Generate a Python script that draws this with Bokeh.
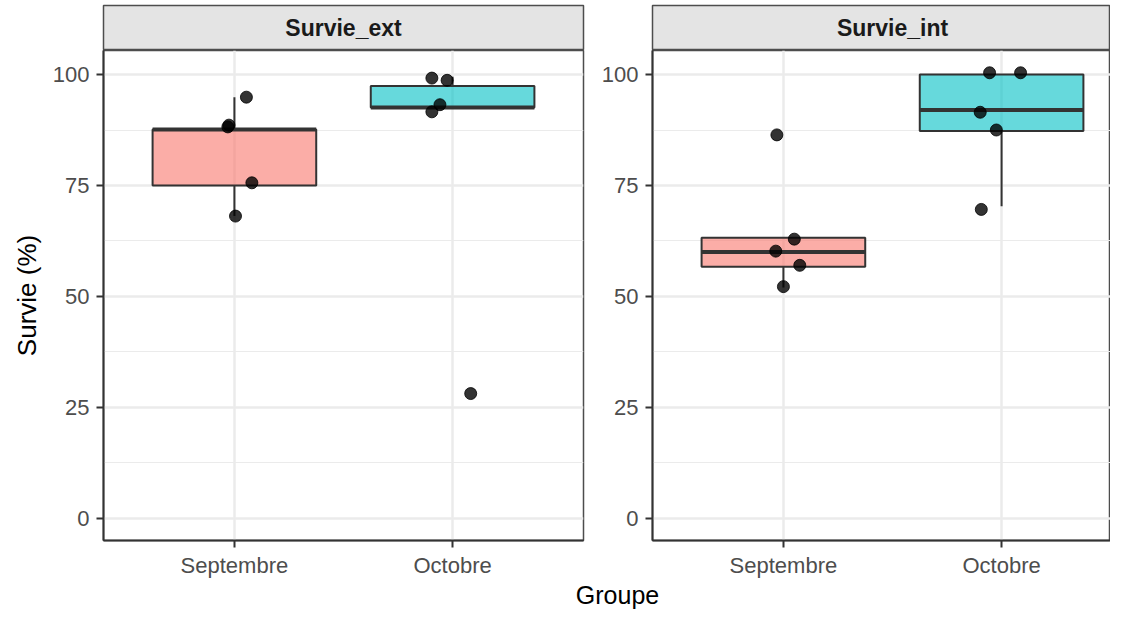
from bokeh.plotting import figure
from bokeh.models import Range1d, FixedTicker, Label
from bokeh.layouts import row, column
from bokeh.embed import file_html
from bokeh.resources import INLINE

# ---------------- data ----------------
groups = ["Septembre", "Octobre"]
panels = ["Survie_ext", "Survie_int"]
box_colors = ["#F8766D", "#00BFC4"]

# box statistics per panel, per group (Septembre, Octobre)
ext_lower = [68.1, 92.6]
ext_q1 = [75.0, 92.6]
ext_median = [87.6, 92.6]
ext_q3 = [87.6, 97.4]
ext_upper = [94.9, 99.5]

int_lower = [52.0, 70.3]
int_q1 = [56.7, 87.3]
int_median = [60.0, 92.0]
int_q3 = [63.2, 100.0]
int_upper = [63.2, 100.0]

# individual (jittered) observations
ext_sept_vals = [94.9, 88.2, 88.6, 75.6, 68.1]
ext_sept_jit = [0.055, -0.03, -0.025, 0.08, 0.005]
ext_oct_vals = [99.2, 98.7, 93.2, 91.6, 28.1]
ext_oct_jit = [-0.095, -0.025, -0.058, -0.095, 0.083]

int_sept_vals = [62.9, 60.2, 57.0, 52.2, 86.4]
int_sept_jit = [0.05, -0.035, 0.075, 0.0, -0.03]
int_oct_vals = [100.4, 100.4, 91.5, 87.5, 69.6]
int_oct_jit = [-0.055, 0.087, -0.098, -0.024, -0.093]

y_ticks = [0, 25, 50, 75, 100]
y_minor = [12.5, 37.5, 62.5, 87.5]

# ---------------- style / layout ----------------
FONT = "Liberation Sans"
BOX_W = 0.75
Y_RANGE = (-5.02, 105.42)
PX_PER_UNIT = 480 / 2.2  # horizontal px per category unit
TOTAL_W, TOTAL_H = 1110, 609
LEFT_W = 588
RIGHT_W = TOTAL_W - LEFT_W
STRIP_TOP, STRIP_H = 5, 45
FRAME_H = 493
BOTTOM_B = 37
PANEL_H = FRAME_H + BOTTOM_B
G_H = TOTAL_H - (STRIP_TOP + STRIP_H) - PANEL_H


def make_panel(width, ml, mr, xend, lower, q1, med, q3, upper, pts, title, ylabel):
    p = figure(width=width, height=PANEL_H, x_range=Range1d(0.4, xend),
               y_range=Range1d(*Y_RANGE), toolbar_location=None,
               output_backend="svg", min_border_left=ml, min_border_right=mr,
               min_border_top=0, min_border_bottom=BOTTOM_B,
               background_fill_color="white", border_fill_color="white",
               outline_line_color="#4d4d4d", outline_line_width=1.5)
    xs = [1, 2]
    # whiskers
    p.segment(x0=xs, x1=xs, y0=q3, y1=upper, line_color="#333333", line_width=2)
    p.segment(x0=xs, x1=xs, y0=lower, y1=q1, line_color="#333333", line_width=2)
    # boxes
    p.vbar(x=xs, width=BOX_W, top=q3, bottom=q1, fill_color=box_colors,
           fill_alpha=0.6, line_color="#333333", line_width=2)
    # medians
    p.segment(x0=[x - BOX_W / 2 for x in xs], x1=[x + BOX_W / 2 for x in xs],
              y0=med, y1=med, line_color="#333333", line_width=4)
    # points
    for gi, (vals, jit) in enumerate(pts):
        p.scatter(x=[xs[gi] + j for j in jit], y=vals, size=12,
                  fill_color="black", fill_alpha=0.8, line_color="black",
                  line_alpha=0.8)

    p.xaxis.ticker = FixedTicker(ticks=xs)
    p.xaxis.major_label_overrides = {1: groups[0], 2: groups[1]}
    p.yaxis.ticker = FixedTicker(ticks=y_ticks, minor_ticks=y_minor)
    for ax in p.axis:
        ax.axis_line_color = "#333333"
        ax.axis_line_width = 2
        ax.major_tick_line_color = "#333333"
        ax.major_tick_line_width = 2
        ax.major_tick_in = 0
        ax.major_tick_out = 7
        ax.minor_tick_line_color = None
        ax.major_label_text_font = FONT
        ax.major_label_text_font_size = "22px"
        ax.major_label_text_color = "#4d4d4d"
    p.xaxis.major_label_standoff = 5
    p.yaxis.major_label_standoff = 7
    if ylabel:
        p.yaxis.axis_label = ylabel
        p.yaxis.axis_label_text_font = FONT
        p.yaxis.axis_label_text_font_size = "26px"
        p.yaxis.axis_label_text_font_style = "normal"
        p.yaxis.axis_label_text_color = "black"
        p.yaxis.axis_label_standoff = 8
    p.xgrid.grid_line_color = "#ebebeb"
    p.xgrid.grid_line_width = 2.5
    p.ygrid.grid_line_color = "#ebebeb"
    p.ygrid.grid_line_width = 2.5
    p.ygrid.minor_grid_line_color = "#ebebeb"
    p.ygrid.minor_grid_line_width = 1.2

    s = figure(width=width, height=STRIP_TOP + STRIP_H, x_range=p.x_range,
               y_range=Range1d(0, 1), toolbar_location=None, output_backend="svg",
               min_border_left=ml, min_border_right=mr, min_border_top=STRIP_TOP,
               min_border_bottom=0, x_axis_location=None, y_axis_location=None,
               background_fill_color="#e4e4e4", border_fill_color="white",
               outline_line_color="#4d4d4d", outline_line_width=1.5)
    s.grid.visible = False
    s.add_layout(Label(x=(0.4 + 2.6) / 2, y=0.5, text=title, text_align="center",
                       text_baseline="middle", text_font=FONT,
                       text_font_size="23px", text_font_style="bold",
                       text_color="#1a1a1a"))
    return column(s, p)


left = make_panel(LEFT_W, 103, 5, 2.6, ext_lower, ext_q1, ext_median, ext_q3, ext_upper,
                  [(ext_sept_vals, ext_sept_jit), (ext_oct_vals, ext_oct_jit)],
                  panels[0], "Survie (%)")
right_ml = 64
right = make_panel(RIGHT_W, right_ml, 0, 0.4 + (RIGHT_W - right_ml) / PX_PER_UNIT,
                   int_lower, int_q1, int_median, int_q3, int_upper,
                   [(int_sept_vals, int_sept_jit), (int_oct_vals, int_oct_jit)],
                   panels[1], None)

g = figure(width=TOTAL_W, height=G_H, x_range=Range1d(0, TOTAL_W),
           y_range=Range1d(0, G_H), toolbar_location=None, output_backend="svg",
           min_border=0, x_axis_location=None, y_axis_location=None,
           outline_line_color=None)
g.grid.visible = False
g.add_layout(Label(x=617, y=G_H / 2, text="Groupe", text_align="center",
                   text_baseline="middle", text_font=FONT, text_font_size="25px",
                   text_color="black"))

layout = column(row(left, right), g)
open("out.html", "w").write(file_html(layout, INLINE))
